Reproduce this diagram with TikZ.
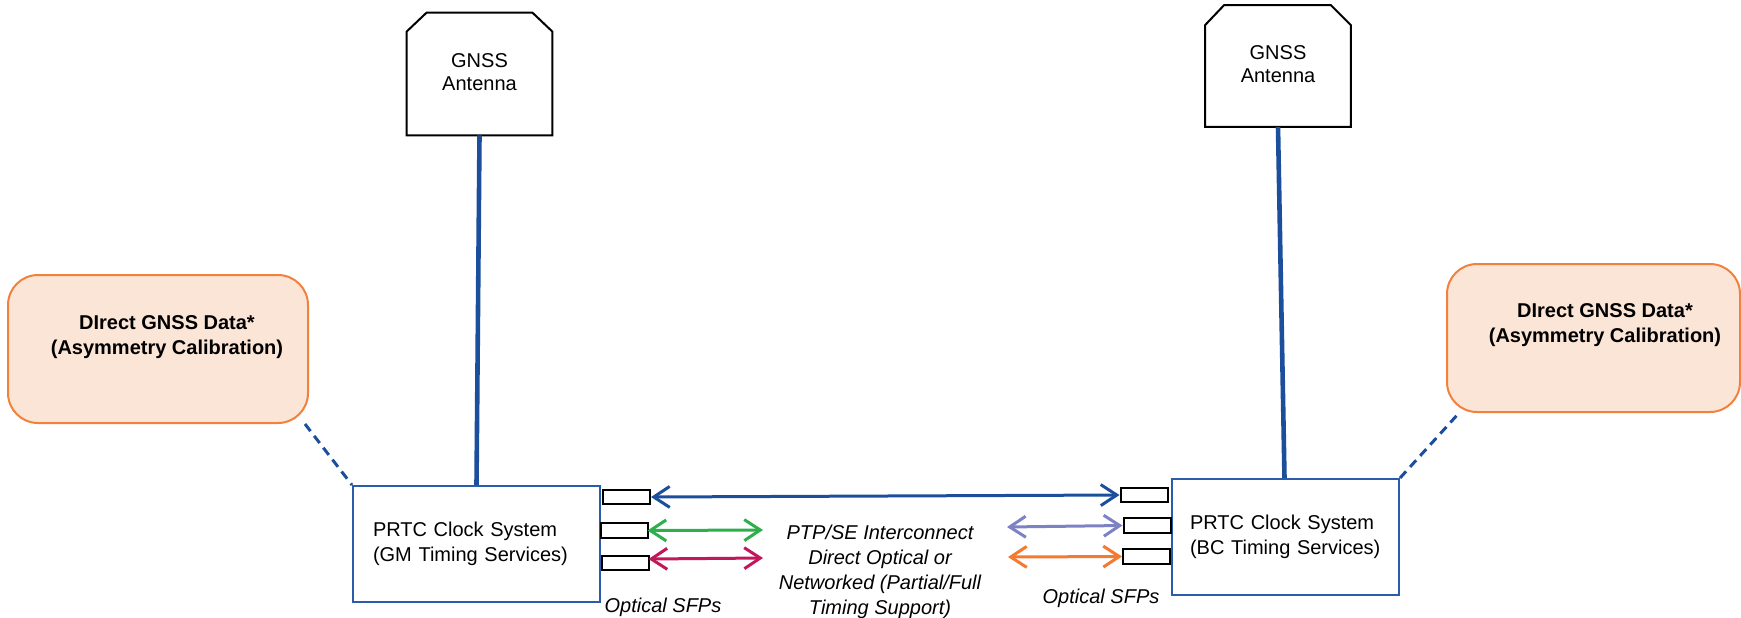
\documentclass[tikz,border=0pt]{standalone}
\usepackage{fontspec}
\setmainfont{Liberation Sans}
\usetikzlibrary{arrows.meta,calc}
\hyphenpenalty=10000
\definecolor{dblue}{HTML}{1B4F9C}
\definecolor{bblue}{HTML}{2A5CAA}
\definecolor{cgreen}{HTML}{2DB04B}
\definecolor{cmag}{HTML}{C2185B}
\definecolor{clav}{HTML}{7C82C4}
\definecolor{corg}{HTML}{F47A30}
\definecolor{ofill}{HTML}{FBE5D6}
\definecolor{oline}{HTML}{F2813E}
\tikzset{
  txt/.style={font=\fontsize{10}{12.5}\selectfont, align=center, inner sep=0pt},
  antbox/.style={rectangle, draw=none, minimum width=72.5pt, minimum height=59pt, inner sep=0pt,
     font=\fontsize{10}{11.5}\selectfont, align=center},
  antline/.style={draw=black, line width=1pt},
  mast/.style={draw=dblue, line width=2.3pt},
  prtc/.style={rectangle, draw=bblue, line width=1pt, fill=white, inner xsep=0pt, inner ysep=0pt,
     minimum height=58pt, align=left, font=\fontsize{10}{12.5}\selectfont},
  sfp/.style={rectangle, draw=black, line width=1pt, fill=white, minimum width=23.5pt, minimum height=7.2pt, inner sep=0pt},
  orgbox/.style={rectangle, rounded corners=15pt, draw=oline, fill=ofill, line width=1pt, minimum height=74pt, inner sep=0pt},
  link/.style={line width=1.5pt, {Straight Barb[length=8pt,width=10.5pt]}-{Straight Barb[length=8pt,width=10.5pt]}},
  dlink/.style={draw=dblue, line width=1.5pt, dash pattern=on 4.5pt off 3pt},
}
\begin{document}
\begin{tikzpicture}[x=0.5pt,y=-0.5pt]
\useasboundingbox (0,0) rectangle (1741,617);
% orange boxes
\node[orgbox, minimum width=150pt] (o1) at (158,349) {};
\node[txt, font=\fontsize{10}{12.5}\selectfont\bfseries] (o1t) at (167,337) {DIrect GNSS Data*\\(Asymmetry Calibration)};
\node[orgbox, minimum width=146.5pt] (o2) at (1593.5,338) {};
\node[txt, font=\fontsize{10}{12.5}\selectfont\bfseries] (o2t) at (1605,325.5) {DIrect GNSS Data*\\(Asymmetry Calibration)};
% antennas
\node[antbox] (a1) at (479.5,72) {GNSS\\Antenna};
\draw[antline] ([yshift=-2pt]a1.south west) -- ([yshift=-9.5pt]a1.north west) -- ([xshift=10pt]a1.north west) -- ([xshift=-10pt]a1.north east) -- ([yshift=-9.5pt]a1.north east) -- ([yshift=-2pt]a1.south east) -- cycle;
\node[antbox] (a2) at (1278,64.5) {GNSS\\Antenna};
\draw[antline] ([yshift=-1.5pt]a2.south west) -- ([yshift=-10pt]a2.north west) -- ([xshift=9.5pt]a2.north west) -- ([xshift=-10pt]a2.north east) -- ([yshift=-10pt]a2.north east) -- ([yshift=-1.5pt]a2.south east) -- cycle;
% PRTC boxes
\node[prtc, text width=103.5pt, minimum width=123.5pt] (p1) at (476.5,544) {PRTC Clock System\\(GM Timing Services)};
\node[prtc, text width=95.5pt, minimum width=113.5pt] (p2) at (1285.5,537) {PRTC Clock System\\(BC Timing Services)};
% masts
\draw[mast] ([yshift=-2pt]a1.south) -- (p1.north);
\draw[mast] ([yshift=-1.5pt]a2.south) -- ([xshift=-0.5pt]p2.north);
% dashed links
\draw[dlink] ([xshift=-2pt]o1.south east) -- (p1.north west);
\draw[dlink] (p2.north east) -- ([xshift=6.5pt]o2.south west);
% SFPs
\node[sfp] (s1) at (626.5,497) {};
\node[sfp] (s2) at (624,530.5) {};
\node[sfp] (s3) at (625,563) {};
\node[sfp] (r1) at (1144,495) {};
\node[sfp] (r2) at (1147,525.5) {};
\node[sfp] (r3) at (1146.5,556.5) {};
% free ends
\coordinate (g2) at (763,530);
\coordinate (m2) at (763,558);
\coordinate (l1) at (1007,527);
\coordinate (q1) at (1008,557);
% arrows
\draw[link, draw=dblue] (s1.east) -- (r1.west);
\draw[link, draw=cgreen] ([xshift=-0.5pt]s2.east) -- (g2);
\draw[link, draw=cmag] ([xshift=-0.5pt,yshift=2pt]s3.east) -- (m2);
\draw[link, draw=clav] (l1) -- (r2.west);
\draw[link, draw=corg] (q1) -- (r3.west);
% labels
\node[txt, font=\fontsize{10}{12.5}\selectfont\itshape] (mid) at (880,572) {PTP/SE Interconnect\\Direct Optical or\\Networked (Partial/Full\\Timing Support)};
\node[txt, font=\fontsize{10}{12.5}\selectfont\itshape] (sl) at (663,607) {Optical SFPs};
\node[txt, font=\fontsize{10}{12.5}\selectfont\itshape] (sr) at (1101,598) {Optical SFPs};
\end{tikzpicture}
\end{document}
